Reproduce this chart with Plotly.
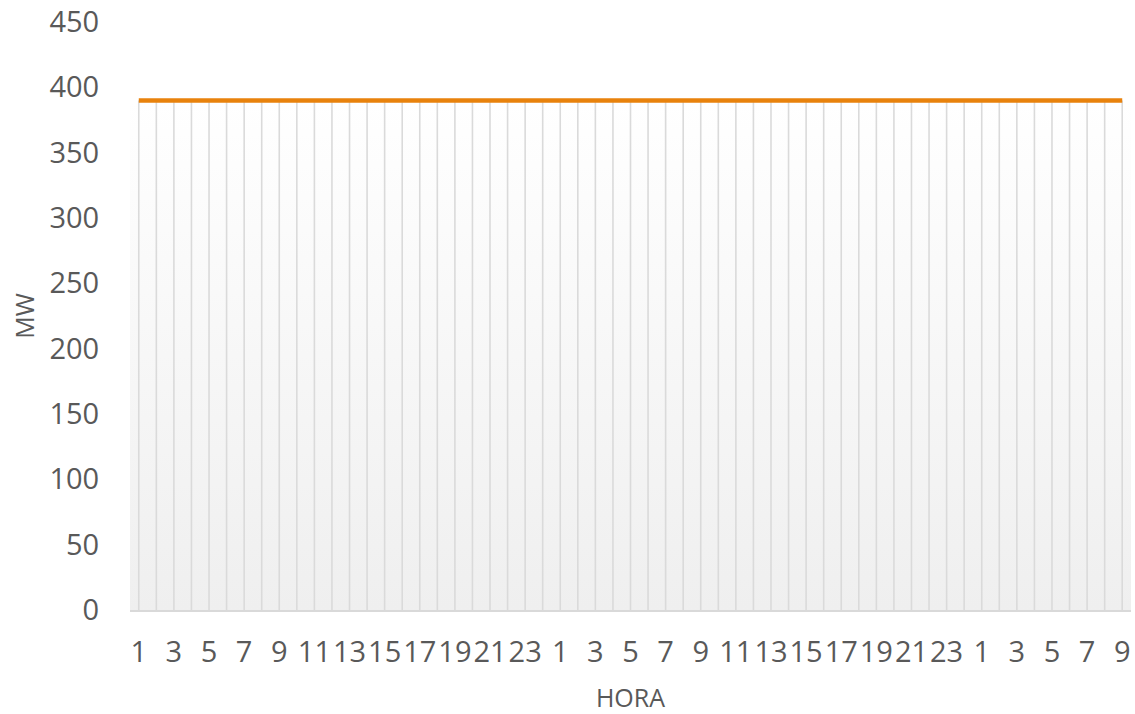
import plotly.graph_objects as go

# Categorías (horas) del eje X
horas = [1, 2, 3, 4, 5, 6, 7, 8, 9, 10, 11, 12, 13, 14, 15, 16, 17, 18, 19, 20, 21, 22, 23, 24,
         1, 2, 3, 4, 5, 6, 7, 8, 9, 10, 11, 12, 13, 14, 15, 16, 17, 18, 19, 20, 21, 22, 23, 24,
         1, 2, 3, 4, 5, 6, 7, 8, 9]

# Serie de área (MW)
area_mw = [390, 390, 390, 390, 390, 390, 390, 390, 390, 390, 390, 390, 390, 390, 390, 390, 390, 390, 390, 390, 390, 390, 390, 390,
           390, 390, 390, 390, 390, 390, 390, 390, 390, 390, 390, 390, 390, 390, 390, 390, 390, 390, 390, 390, 390, 390, 390, 390,
           390, 390, 390, 390, 390, 390, 390, 390, 390]

# Serie de línea (MW)
linea_mw = [390, 390, 390, 390, 390, 390, 390, 390, 390, 390, 390, 390, 390, 390, 390, 390, 390, 390, 390, 390, 390, 390, 390, 390,
            390, 390, 390, 390, 390, 390, 390, 390, 390, 390, 390, 390, 390, 390, 390, 390, 390, 390, 390, 390, 390, 390, 390, 390,
            390, 390, 390, 390, 390, 390, 390, 390, 390]

y_ticks = [0, 50, 100, 150, 200, 250, 300, 350, 400, 450]

pos = list(range(1, len(horas) + 1))
tick_pos = pos[::2]
tick_txt = [str(h) for h in horas[::2]]

TXT = "#595959"
FONT = "Open Sans"

fig = go.Figure()

# gradient-filled area across full category bands
x_fill = [pos[0] - 0.5] + pos + [pos[-1] + 0.5]
y_fill = [area_mw[0]] + area_mw + [area_mw[-1]]
fig.add_trace(go.Scatter(
    x=x_fill, y=y_fill, mode="lines", line=dict(width=0, shape="hvh"),
    fill="tozeroy",
    fillgradient=dict(type="vertical", colorscale=[[0, "#efefef"], [1, "#ffffff"]]),
    hoverinfo="skip", showlegend=False,
))

# drop lines at each category
dx, dy = [], []
for p, v in zip(pos, area_mw):
    dx += [p, p, None]
    dy += [0, v, None]
fig.add_trace(go.Scatter(
    x=dx, y=dy, mode="lines", line=dict(color="#dadada", width=1.6),
    hoverinfo="skip", showlegend=False,
))

# orange line
fig.add_trace(go.Scatter(
    x=pos, y=linea_mw, mode="lines", line=dict(color="#E8820C", width=4.5),
    showlegend=False,
))

fig.update_layout(
    width=1135, height=714,
    margin=dict(l=130, r=4, t=22, b=104),
    paper_bgcolor="white", plot_bgcolor="white",
    font=dict(family=FONT, color=TXT, size=29),
    showlegend=False,
)

fig.update_xaxes(
    automargin=False,
    range=[pos[0] - 0.5, pos[-1] + 0.5],
    tickmode="array", tickvals=tick_pos, ticktext=tick_txt, tickangle=0,
    tickfont=dict(size=29, color=TXT, family=FONT),
    ticks="outside", ticklen=15, tickcolor="rgba(0,0,0,0)",
    showgrid=False, zeroline=False,
    showline=True, linecolor="#d9d9d9", linewidth=1.5,
    title=dict(text="HORA", font=dict(size=25, color=TXT, family=FONT), standoff=22),
)

fig.update_yaxes(
    automargin=False,
    range=[0, 450], tickmode="array", tickvals=y_ticks,
    tickfont=dict(size=29, color=TXT, family=FONT),
    ticks="outside", ticklen=24, tickcolor="rgba(0,0,0,0)",
    ticklabeloverflow="allow",
    showgrid=False, zeroline=False, showline=False,
    title=dict(text="MW", font=dict(size=25, color=TXT, family=FONT), standoff=7),
)

fig.write_html("out.html", config={"displayModeBar": False},
               post_script="document.body.style.margin='0';")
